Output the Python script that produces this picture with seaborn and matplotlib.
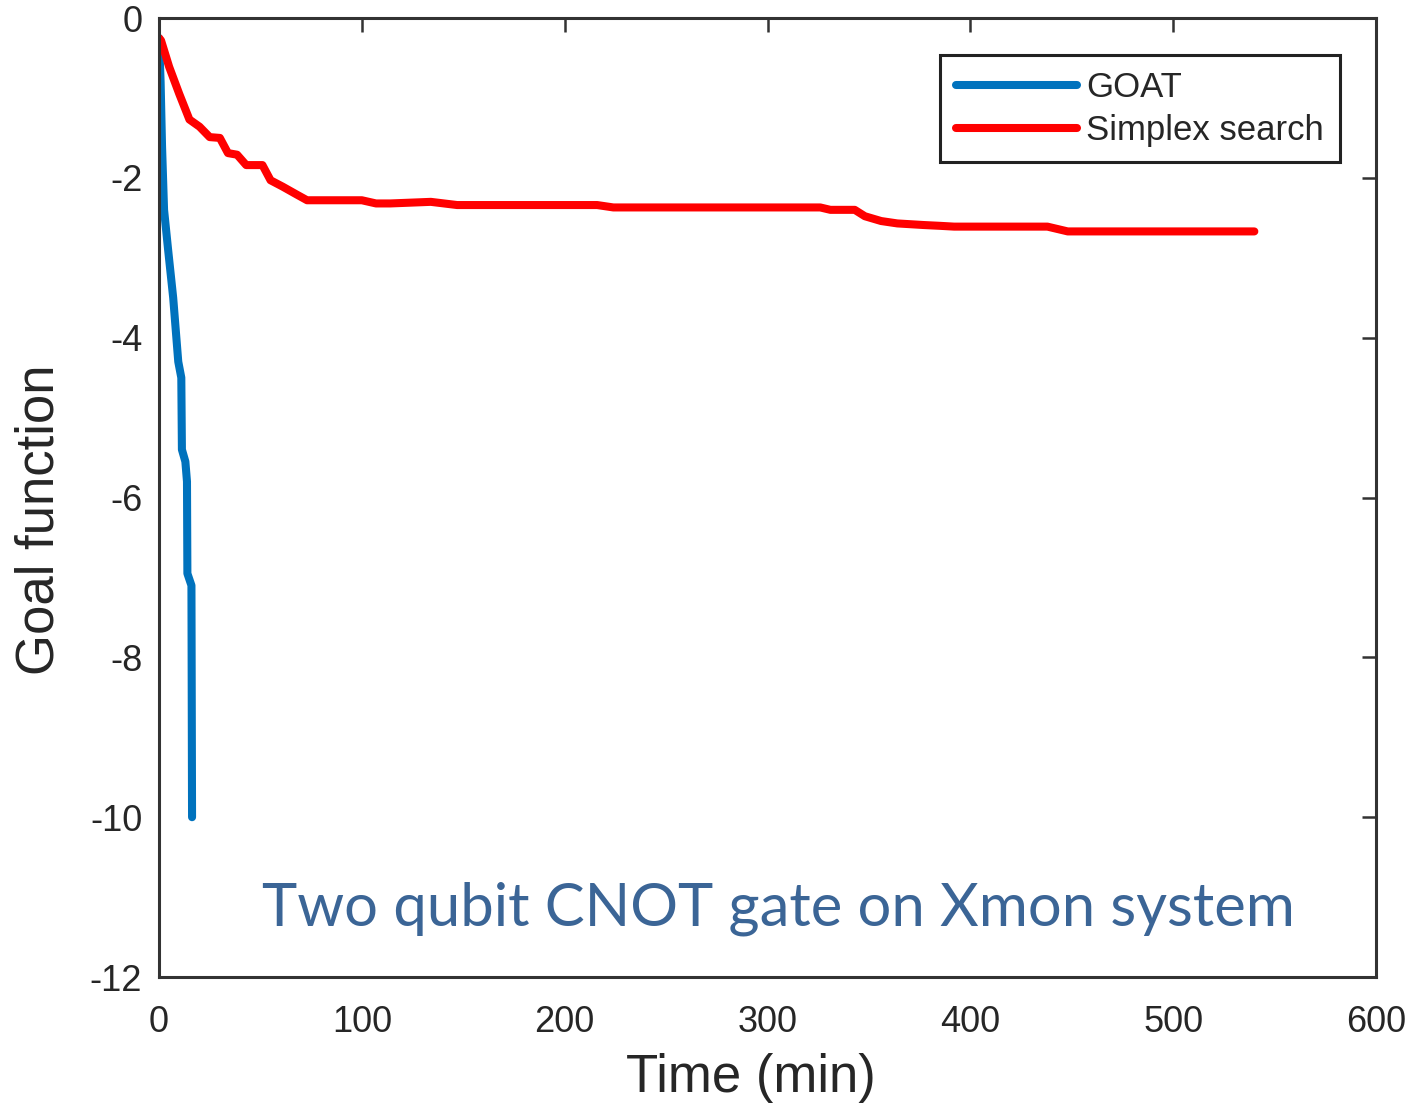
import matplotlib
matplotlib.use('Agg')
import matplotlib.pyplot as plt
import seaborn as sns

# GOAT optimisation trace (time in minutes, goal function)
goat_time = [0, 0.8, 1.5, 2.5, 4.5, 7.0, 9.5, 11.0, 11.3, 13.0, 13.8, 14.0, 16.0, 16.3]
goat_goal = [-0.25, -0.8, -1.6, -2.4, -2.9, -3.5, -4.3, -4.5, -5.4, -5.55, -5.8, -6.95, -7.1, -10.0]

# Simplex search trace
simplex_time = [0, 1, 5, 10, 15, 20, 25, 30, 34, 38.5, 43, 51, 55, 61, 68, 73, 89, 100,
                107, 114, 134, 147, 216, 224, 326, 331, 343, 348, 356, 364, 377, 385,
                392, 438, 448, 540]
simplex_goal = [-0.25, -0.28, -0.61, -0.95, -1.27, -1.36, -1.49, -1.5, -1.69, -1.71, -1.84,
                -1.84, -2.03, -2.11, -2.21, -2.28, -2.28, -2.28, -2.32, -2.32, -2.30, -2.34,
                -2.34, -2.37, -2.37, -2.40, -2.40, -2.48, -2.54, -2.57, -2.59, -2.60, -2.61,
                -2.61, -2.67, -2.67]

x_ticks = [0, 100, 200, 300, 400, 500, 600]
y_ticks = [0, -2, -4, -6, -8, -10, -12]

sns.set_style('white')
plt.rcParams['font.family'] = ['Liberation Sans', 'DejaVu Sans']

fig = plt.figure(figsize=(14.07, 11.07), dpi=100)
ax = fig.add_axes([0.113, 0.1174, 0.865, 0.8663])

sns.lineplot(x=goat_time, y=goat_goal, ax=ax, color='#0072BD', linewidth=5.8,
             estimator=None, sort=False, label='GOAT', solid_joinstyle='round')
sns.lineplot(x=simplex_time, y=simplex_goal, ax=ax, color='#FF0000', linewidth=5.8,
             estimator=None, sort=False, label='Simplex search', solid_joinstyle='round')

ax.set_xlim(0, 600)
ax.set_ylim(-12, 0)
ax.set_xticks(x_ticks)
ax.set_yticks(y_ticks)
ax.set_xticklabels([str(v) for v in x_ticks])
ax.set_yticklabels([str(v) for v in y_ticks])

for s in ax.spines.values():
    s.set_visible(True)
    s.set_color('#333333')
    s.set_linewidth(2.2)
ax.tick_params(direction='in', length=10, width=1.8, color='#333333',
               top=True, right=True, labelsize=26, labelcolor='#262626')
ax.tick_params(axis='x', pad=20)
ax.tick_params(axis='y', pad=12)

ax.set_xlabel('Time (min)', fontsize=38, color='#262626')
ax.set_ylabel('Goal function', fontsize=38, color='#262626')
ax.xaxis.set_label_coords(0.486, -0.105)
ax.yaxis.set_label_coords(-0.098, 0.4765)
ax.xaxis.label.set_va('center')
ax.yaxis.label.set_va('center')

leg = ax.legend(loc='upper right', bbox_to_anchor=(0.970, 0.961), borderaxespad=0,
                fontsize=25, handlelength=3.5, handletextpad=0.25, fancybox=False,
                framealpha=1, edgecolor='#222222', borderpad=0.45, labelspacing=0.28)
leg.get_frame().set_linewidth(2.2)

ax.text(0.509, 0.054, 'Two qubit CNOT gate on Xmon system', transform=ax.transAxes,
        ha='center', va='baseline', fontsize=43, color='#3B6596', family=['Lato', 'DejaVu Sans'])

plt.savefig('out.png', dpi=100)
